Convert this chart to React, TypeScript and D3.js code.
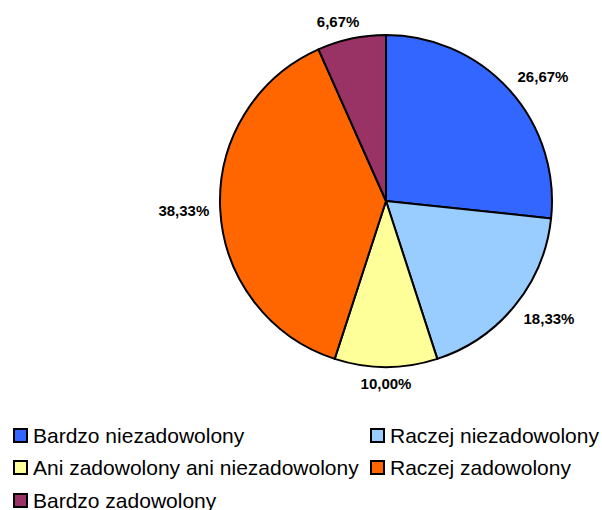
import React from "react";
import * as d3 from "d3";

const categories = [
  "Bardzo niezadowolony",
  "Raczej niezadowolony",
  "Ani zadowolony ani niezadowolony",
  "Raczej zadowolony",
  "Bardzo zadowolony",
];
const values = [26.67, 18.33, 10.0, 38.33, 6.67];
const colors = ["#3366FF", "#99CCFF", "#FFFF99", "#FF6600", "#993366"];

const W = 602;
const H = 510;
const cx = 386;
const cy = 201;
const R = 166;

function fmt(v: number) {
  return v.toFixed(2).replace(".", ",") + "%";
}

function approxWidth(s: string, size: number) {
  let w = 0;
  for (const ch of s) {
    if (ch >= "0" && ch <= "9") w += 0.556;
    else if (ch === ",") w += 0.278;
    else if (ch === "%") w += 0.889;
    else w += 0.556;
  }
  return w * size;
}

export default function App() {
  const pie = d3
    .pie<number>()
    .sort(null)
    .value((d) => d)
    .startAngle(0)
    .endAngle(2 * Math.PI);
  const arcs = pie(values);
  const arc = d3.arc<d3.PieArcDatum<number>>().innerRadius(0).outerRadius(R);

  const labelSize = 15;
  const legendSize = 21;
  const legendX = [13, 370];
  const legendY = [428, 460, 493];
  const sq = 14;

  return (
    <svg
      width={W}
      height={H}
      style={{ position: "absolute", left: 0, top: 0, background: "#fff" }}
      fontFamily="'Liberation Sans', Arial, sans-serif"
    >
      <g transform={`translate(${cx},${cy})`}>
        {arcs.map((a, i) => (
          <path
            key={i}
            d={arc(a) || ""}
            fill={colors[i]}
            stroke="#000"
            strokeWidth={2}
            strokeLinejoin="round"
          />
        ))}
        {arcs.map((a, i) => {
          const mid = (a.startAngle + a.endAngle) / 2;
          const s = Math.sin(mid);
          const c = Math.cos(mid);
          const rr = R + 11;
          const px = rr * s;
          const py = -rr * c;
          const txt = fmt(values[i]);
          const hw = approxWidth(txt, labelSize) / 2;
          const hh = 6;
          const k = 2.5;
          const ox = hw * Math.sign(s) * Math.min(1, Math.abs(s) * k);
          const oy = -hh * Math.sign(c) * Math.min(1, Math.abs(c) * k);
          return (
            <text
              key={"l" + i}
              x={px + ox}
              y={py + oy}
              dy="0.36em"
              textAnchor="middle"
              fontSize={labelSize}
              fontWeight="bold"
              fill="#000"
            >
              {txt}
            </text>
          );
        })}
      </g>
      <g>
        {categories.map((cat, i) => {
          const col = i % 2;
          const row = Math.floor(i / 2);
          const x = legendX[col];
          const y = legendY[row];
          return (
            <g key={"lg" + i}>
              <rect
                x={x + 1}
                y={y + 1}
                width={sq - 1}
                height={sq - 1}
                fill={colors[i]}
                stroke="#000"
                strokeWidth={2}
              />
              <text
                x={x + 20}
                y={y + sq / 2}
                dy="0.36em"
                fontSize={legendSize}
                fill="#000"
              >
                {cat}
              </text>
            </g>
          );
        })}
      </g>
    </svg>
  );
}
